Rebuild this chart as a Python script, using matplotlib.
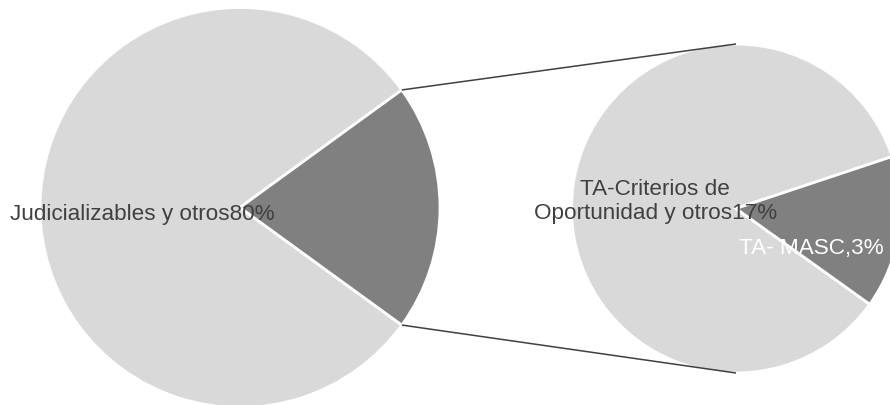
import numpy as np
import matplotlib
matplotlib.use("Agg")
import matplotlib.pyplot as plt

plt.rcParams['font.family'] = ['Liberation Sans', 'DejaVu Sans']

# primary pie
main_labels = ["Judicializables y otros", "TA"]
main_values = [80, 20]
# secondary pie (breakdown of the 20%)
sub_labels = ["TA-Criterios de\nOportunidad y otros", "TA- MASC,"]
sub_values = [17, 3]

light = "#d9d9d9"
dark = "#808080"

W, H = 890, 406
fig = plt.figure(figsize=(W / 100, H / 100), dpi=100)
ax = fig.add_axes([0, 0, 1, 1])

# geometry (pixels, y up)
c1 = (240, H - 208.5); r1 = 200
c2 = (736, H - 209.5); r2 = 164.5

half = main_values[1] / sum(main_values) * 360 / 2
ax.pie(main_values, startangle=half, colors=[light, dark], center=c1, radius=r1,
       wedgeprops=dict(edgecolor="white", linewidth=2), frame=True)
ax.pie(sub_values, startangle=18.4, colors=[light, dark], center=c2, radius=r2,
       wedgeprops=dict(edgecolor="white", linewidth=2), frame=True)
ax.set_xlim(0, W)
ax.set_ylim(0, H)
ax.set_aspect("equal")
ax.axis("off")

# connector lines
for sgn in (1, -1):
    a = np.deg2rad(sgn * half)
    x0 = c1[0] + r1 * np.cos(a)
    y0 = c1[1] + r1 * np.sin(a)
    ax.plot([x0, c2[0]], [y0, c2[1] + sgn * r2], color="#404040", lw=1.1,
            solid_capstyle="butt")

# labels
fs = 16.2
ax.text(c1[0] - 0.49 * r1, c1[1] - 0.03 * r1, f"{main_labels[0]}{main_values[0]}%",
        ha="center", va="center", fontsize=fs, color="#404040")
ax.text(c2[0] - 0.49 * r2, c2[1] + 0.05 * r2, f"{sub_labels[0]}{sub_values[0]}%",
        ha="center", va="center", fontsize=fs, color="#404040", linespacing=1.2)
ax.text(c2[0] + 0.46 * r2, c2[1] - 0.24 * r2, f"{sub_labels[1]}{sub_values[1]}%",
        ha="center", va="center", fontsize=fs, color="white")

fig.savefig("out.png", dpi=100)
